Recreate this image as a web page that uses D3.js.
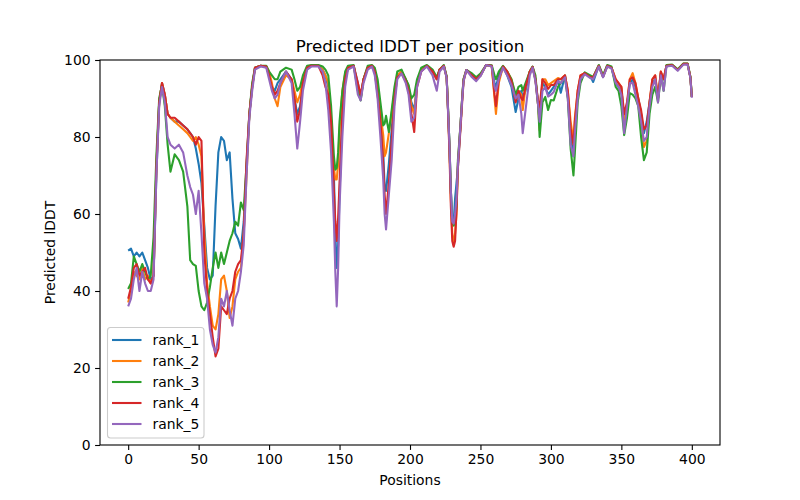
<!DOCTYPE html>
<html>
<head>
<meta charset="utf-8">
<script src="https://cdn.jsdelivr.net/npm/d3@7"></script>
<style>
  body { margin: 0; background: #fff; }
  text { font-family: "DejaVu Sans", sans-serif; fill: #000; }
</style>
</head>
<body>
<div id="chart"></div>
<script>
// data
var positions = [0,2,4,6,8,10,12,14,16,18,20,22,24,26,28,30,33,36,39,42,44,46,48,50,52,54,56,58,60,62,64,66,68,70,72,74,76,78,80,82,84,86,88,90,94,98,
  100,102,104,106,108,112,116,118,120,122,124,127,130,135,138,140,142,144,146,147,148,149,150,152,154,156,160,163,165,167,170,173,175,177,179,181,182,183,185,187,189,191,194,197,199,
  201,203,205,208,212,216,219,221,224,226,227,228,229,230,231,232,233,234,236,237,238,240,244,247,250,254,258,260,261,263,266,269,272,275,277,279,280,282,285,287,289,291,292,294,296,298,
  300,302,305,307,310,312,314,316,317,319,321,324,328,330,334,337,340,343,346,348,350,352,354,356,358,360,362,364,366,368,370,372,374,376,378,380,382,386,390,394,397,399,400];

var rank1 = [50.5,51,49,50,49,50,48,46,43,44,70,89,94,91,86,85,84,84,83,82,81,80,77,73,68,57,46,43,44,62,76,80,79,74,76,64,55,53.5,51,58,72,86,93,98,98.5,98.3,
  96,93,92,94,95,97,95,90,86,88,94,98,98.5,98.5,97.5,96,93,84,70,55,46,52,65,86,95,98,98.5,94,90,95,98,98.5,97,92,85,76,67,66,73,82,91,96,97,95,93,
  89,87,94,97.5,98.5,97,95,97.5,98.5,95.6,87,78,66,58,58,64,68,72,84,90,95,97.4,96,95,96,98.7,98.5,94,93,96,98.3,96,93,86.5,90,92,90,92,97,98.2,95,88,84,94,93,91,
  92,93,95,91.5,96,91,80,75,82,91,95.6,96.6,95.8,94.3,98.5,95.6,98.5,98,94,93,92.5,84.5,88,94,95,93,90,86,81,84,89,94,95,90,96.6,95,98.5,98.7,97.4,99,99,95.5,90.4];

var rank2 = [37,40,45,44,43,46,43,44,42,44,72,89,94,91,86,85,84,83,82,81,80,79,80,78,75,55,42,36,31,30,34,43,44,40,33,36,43,45,46,55,70,86,93,98,98.5,98.3,
  97,94,90,88,93,96,95,92,89,91,95,98,98.5,98.5,97.5,96,94,83,72,69,69,73,82,92,96.5,98,98.5,93,90,95,98,98.5,97,92,86,80.5,75,76,81,86,92,96,97,95,93,
  88,86,94,97.5,98.5,97,95,97.5,98.5,95.6,87,77,64,55,52,55,60,73,84,90,95,97.4,96,95,96,98.7,98.3,90,86,94,98.3,97,95,90,92,91,87,93,97,98.2,95,87.8,81.8,95,95,93.5,
  94,94.5,95.3,95,96,92,84,79,85,92,96,96.6,95.5,95.5,98.5,95.8,98.5,98,95,94,93,83,88,95,96.6,94,90,86,77.4,79,89,95,96,90,97,95,98.5,98.7,97.4,99,99,95.5,90.4];

var rank3 = [40.5,42,49,47,45,47,45,43,44,54,75,90,93.5,88,78,71,75.5,74,71,62,48,47,46.5,40,36,35,37,41,46,50,46,50,47,50,53,55,58,57,63,61,73,86,94,98,98.5,98.5,
  97,96,95,95,97,98,97.5,95,92,93,96,98.5,98.7,98.7,98.3,97.5,96,88,75,71.5,72,76,84,92,97,98.5,98.7,92,89.5,95,98.5,98.7,98,95,89,83,83.5,85.5,81.3,87,93,97,97.5,95,93.5,
  90,91,95,98,98.7,97.5,95.5,97.5,98.7,95.8,87.5,78,66,58,57,58,62,74,84,90,95,97.4,96.5,95.5,96.5,98.7,98.6,96,95,97,98.5,97,95,91,93,93.5,92,94,97,98.3,96,88,80,89,90.4,87,
  89.6,89.5,93,94,95.5,90,77,70,76,89,94,96.8,96,95.6,98.7,96,98.7,98.3,93,92,88,80.5,85,91.4,91,90,88,80,74,76,86,91,93,89,96,92,98.7,98.8,97.6,99.1,99.1,95.6,90.5];

var rank4 = [38,41,46,47,44,45,46,43,42,44,72,89,94,91,86,85,85,84,83,82,81,80,78,80,79,50,40,34,28,23,25,36,35,34,38,40,45,47,48,55,74,86,93,98,98.5,98.3,
  96,93,91,92,94,97,95,90,84,87,94,98,98.5,98.5,96,93,91,84,66,58,53,59,68,86,95,98,98.5,94,91,95,98,98.5,97,91,84,73,65,60,68,79,90,95.5,96.5,94.5,92,
  86,81.3,93,97,98.5,97,95,97.5,98.5,95.5,86.5,76,62,53,51.5,53,61,72,83,89,94.5,97.4,96,95,96,98.7,98.5,91,88,95,98.3,97,94.5,89,92,90,89.6,93,97,98.2,95,89,87.8,95,94,92.5,
  93.5,93.5,95,95,96,92,82,78,84,92,96,96.6,95.5,95.5,98.5,95.6,98.5,98,95,94,93,86,89,95,95.5,94,90,87,82,83,89,95,96,90,97,95,98.5,98.7,97.4,99,99,95.5,90.4];

var rank5 = [36,38,43,46,40,45,42,40,40,43,70,88,93,89,80,78,77,78,76,70,67,65,60,66,55,42,38,30,26,24,28,38,36,40,35,31,38,40,45,52,70,85,92,97.5,98.3,98,
  95,92,90,91,94,97,94,86,77,84,92,97.5,98.3,98.3,97,94,87,76,58,45,36,46,62,80,93,97.5,98.3,91,89.5,94,97.5,98.3,96,90,80,69,60,56,65,74,88,95,96.5,94,91,
  84,85,93,97,98.3,96,92,97,98.3,95.4,87,78,66,58,57.5,60,64,73,84,89.5,94.5,97.4,95.5,94.5,95.8,98.7,98.3,93,92,95,98,96,93.5,90,91,86,81,87,96,98,94.5,88,84,92,93,90.5,
  91,91.7,94.5,94,95.5,90,78,75,81,90,95,96.3,95.3,95,98.3,95.5,98.3,97.8,94,93,91,81,88,94,94,91,88,84,79,80,88,93,95,89,96,92,98.3,98.5,97.2,98.8,98.8,95.3,90.2];

var seriesNames = ["rank_1", "rank_2", "rank_3", "rank_4", "rank_5"];
var seriesColors = ["#1f77b4", "#ff7f0e", "#2ca02c", "#d62728", "#9467bd"];
var xTicks = [0, 50, 100, 150, 200, 250, 300, 350, 400];
var yTicks = [0, 20, 40, 60, 80, 100];

var allSeries = [rank1, rank2, rank3, rank4, rank5];

var W = 800, H = 500;
var margin = {left: 100, top: 60, right: 80, bottom: 55};
var pw = W - margin.left - margin.right;
var ph = H - margin.top - margin.bottom;

var svg = d3.select("#chart").append("svg")
    .attr("width", W)
    .attr("height", H);

var g = svg.append("g")
    .attr("transform", "translate(" + margin.left + "," + margin.top + ")");

var x = d3.scaleLinear().domain([-20, 420]).range([0, pw]);
var y = d3.scaleLinear().domain([0, 100]).range([ph, 0]);

var line = d3.line()
    .x(function (d) { return x(d[0]); })
    .y(function (d) { return y(d[1]); });

allSeries.forEach(function (vals, i) {
    var pts = positions.map(function (p, j) { return [p, vals[j]]; });
    g.append("path")
        .datum(pts)
        .attr("d", line)
        .attr("fill", "none")
        .attr("stroke", seriesColors[i])
        .attr("stroke-width", 2.1)
        .attr("stroke-linejoin", "round");
});

// axes
var xAxis = g.append("g")
    .attr("transform", "translate(0," + ph + ")")
    .call(d3.axisBottom(x).tickValues(xTicks).tickSize(4.9).tickPadding(4.5));
var yAxis = g.append("g")
    .call(d3.axisLeft(y).tickValues(yTicks).tickSize(4.9).tickPadding(4.5));

[xAxis, yAxis].forEach(function (a) {
    a.select(".domain").remove();
    a.selectAll("line").attr("stroke", "#000").attr("stroke-width", 1.1);
    a.selectAll("text").style("font-size", "13.9px").style("font-family", "DejaVu Sans");
});

// spines
g.append("rect")
    .attr("width", pw)
    .attr("height", ph)
    .attr("fill", "none")
    .attr("stroke", "#000")
    .attr("stroke-width", 1.1);

svg.append("text")
    .attr("x", margin.left + pw / 2)
    .attr("y", 52)
    .attr("text-anchor", "middle")
    .style("font-size", "16.7px")
    .text("Predicted lDDT per position");

svg.append("text")
    .attr("x", margin.left + pw / 2)
    .attr("y", 485)
    .attr("text-anchor", "middle")
    .style("font-size", "13.9px")
    .text("Positions");

svg.append("text")
    .attr("transform", "translate(55," + (margin.top + ph / 2) + ") rotate(-90)")
    .attr("text-anchor", "middle")
    .style("font-size", "13.9px")
    .text("Predicted lDDT");

// legend
var leg = svg.append("g");
leg.append("rect")
    .attr("x", 107.5)
    .attr("y", 327.5)
    .attr("width", 96.5)
    .attr("height", 110.5)
    .attr("rx", 3)
    .attr("fill", "#fff")
    .attr("fill-opacity", 0.8)
    .attr("stroke", "#cccccc")
    .attr("stroke-width", 1.1);

var items = leg.selectAll(".item")
    .data(seriesNames)
    .enter().append("g")
    .attr("transform", function (d, i) { return "translate(0," + (340 + i * 21) + ")"; });

items.append("line")
    .attr("x1", 112).attr("x2", 141.5)
    .attr("stroke", function (d, i) { return seriesColors[i]; })
    .attr("stroke-width", 2.1);

items.append("text")
    .attr("x", 152.5)
    .attr("dy", "0.35em")
    .style("font-size", "13.9px")
    .text(function (d) { return d; });
</script>
</body>
</html>
